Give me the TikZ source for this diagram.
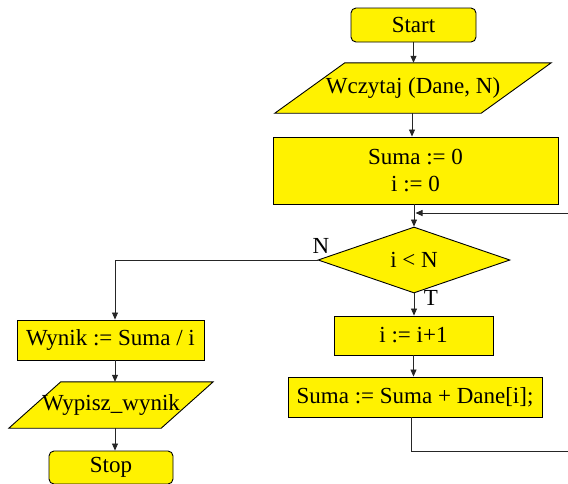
\documentclass[tikz,border=0pt]{standalone}
\usepackage{fontspec}
\setmainfont{Liberation Serif}
\usetikzlibrary{shapes.geometric,arrows.meta,backgrounds}

\tikzset{
  txt/.style={font=\rmfamily\fontsize{23}{27}\selectfont},
  blk/.style={txt, draw=black, fill=yellow, line width=0.9pt, inner sep=0pt, align=center},
  proc/.style={blk, rectangle},
  term/.style={blk, rectangle, rounded corners=5pt},
  cond/.style={blk, diamond},
  iobox/.style={txt, rectangle, inner sep=0pt},
  iofill/.style={draw=black, fill=yellow, line width=0.9pt, line join=miter},
  arr/.style={draw=black!85, line width=0.8pt, -{Triangle[length=7pt,width=6pt]}},
  lbl/.style={txt, inner sep=0pt}
}

\begin{document}
\begin{tikzpicture}[x=1pt,y=-1pt]
\useasboundingbox (0,0) rectangle (568,483);

% main column
\node[term, minimum width=125pt, minimum height=34pt] (start) at (413.5,25) {Start};
\node[iobox, minimum width=206pt, minimum height=50pt] (wcz) at (413,88) {Wczytaj (Dane, N)};
\node[proc, minimum width=285pt, minimum height=67pt] (init) at (415.5,170.5) {Suma := 0\\i := 0};
\node[cond, minimum width=192pt, minimum height=66pt] (dec) at (414,260) {i {<} N};
\node[proc, minimum width=159pt, minimum height=39pt] (inc) at (413.5,335.5) {i := i+1};
\node[proc, minimum width=254pt, minimum height=40pt] (sum) at (415,397) {Suma := Suma + Dane[i];};

% left column
\node[proc, minimum width=187pt, minimum height=40pt] (wynik) at (110.5,340) {Wynik := Suma / i};
\node[iobox, minimum width=152pt, minimum height=46pt] (wyp) at (111,405) {Wypisz\_wynik};
\node[term, minimum width=124pt, minimum height=33pt] (stop) at (111,467.5) {Stop};

% parallelograms behind the input/output texts
\begin{scope}[on background layer]
  \draw[iofill] ([xshift=-35pt]wcz.south west) -- ([xshift=-35pt]wcz.south east)
    -- ([xshift=35pt]wcz.north east) -- ([xshift=35pt]wcz.north west) -- cycle;
  \draw[iofill] ([xshift=-26pt]wyp.south west) -- ([xshift=-26pt]wyp.south east)
    -- ([xshift=26pt]wyp.north east) -- ([xshift=26pt]wyp.north west) -- cycle;
\end{scope}

% branch labels
\node[lbl] (lN) at (321,246) {N};
\node[lbl] (lT) at (431,298) {T};

% helper points
\coordinate (nb) at (115,260);
\coordinate (lb) at (411,451);
\coordinate (lr) at (580,451);
\coordinate (lt) at (580,213);

% connectors
\draw[arr] (start.south) -- (start.south |- wcz.north);
\draw[arr] (wcz.south -| 412,0) -- (412,0 |- init.north);
\draw[arr] (init.south -| dec.north) -- (dec.north);
\draw[arr] (dec.south) -- (dec.south |- inc.north);
\draw[arr] (inc.south) -- (inc.south |- sum.north);
\draw[arr] (dec.west) -- (nb) -- (nb |- wynik.north);
\draw[arr] (wynik.south -| nb) -- (nb |- wyp.north);
\draw[arr] (wyp.south -| nb) -- (nb |- stop.north);
\draw[arr] (sum.south -| lb) -- (lb) -- (lr) -- (lt) -- ([xshift=1.5pt]dec.north |- lt);
\end{tikzpicture}
\end{document}
